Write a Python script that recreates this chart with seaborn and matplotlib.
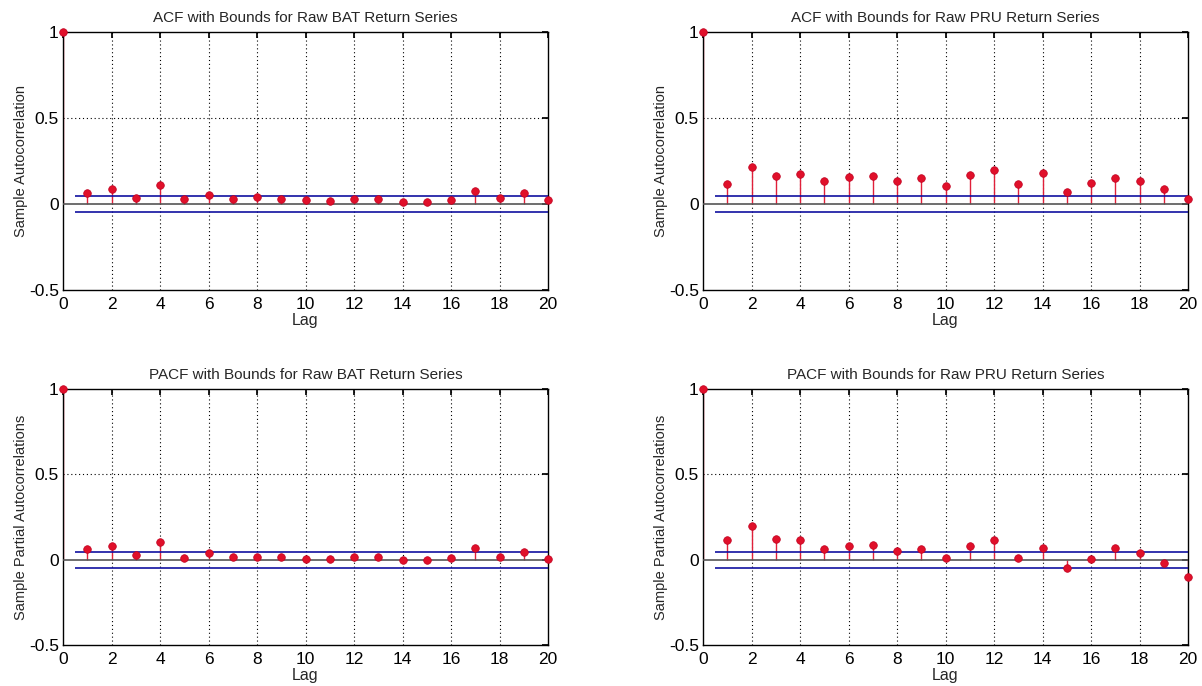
import numpy as np
import pandas as pd
import matplotlib
matplotlib.use("Agg")
import matplotlib.pyplot as plt
import seaborn as sns

lags = list(range(0, 21))
acf_bat = [1.0, 0.062, 0.087, 0.037, 0.112, 0.029, 0.054, 0.029, 0.043, 0.029, 0.023,
           0.016, 0.029, 0.029, 0.012, 0.012, 0.023, 0.074, 0.035, 0.062, 0.023]
acf_pru = [1.0, 0.118, 0.213, 0.165, 0.174, 0.136, 0.155, 0.165, 0.136, 0.149, 0.107,
           0.169, 0.200, 0.118, 0.180, 0.068, 0.124, 0.149, 0.136, 0.087, 0.029]
pacf_bat = [1.0, 0.062, 0.081, 0.025, 0.106, 0.012, 0.037, 0.017, 0.017, 0.017, 0.006,
            0.006, 0.017, 0.017, -0.002, -0.002, 0.012, 0.068, 0.017, 0.042, 0.006]
pacf_pru = [1.0, 0.118, 0.199, 0.124, 0.118, 0.062, 0.081, 0.087, 0.050, 0.062, 0.012,
            0.081, 0.118, 0.012, 0.068, -0.050, 0.006, 0.068, 0.037, -0.019, -0.100]
bound = 0.046

titles = ["ACF with Bounds for Raw BAT Return Series",
          "ACF with Bounds for Raw PRU Return Series",
          "PACF with Bounds for Raw BAT Return Series",
          "PACF with Bounds for Raw PRU Return Series"]
ylabels = ["Sample Autocorrelation", "Sample Autocorrelation",
           "Sample Partial Autocorrelations", "Sample Partial Autocorrelations"]
series = [acf_bat, acf_pru, pacf_bat, pacf_pru]

sns.set_theme(style="white")
plt.rcParams['font.family'] = ['Liberation Sans', 'DejaVu Sans']

fig = plt.figure(figsize=(12.02, 6.86), dpi=100)
W, H = 1202, 686
boxes = [(63, 32, 548, 290), (703, 32, 1188, 290),
         (63, 389, 548, 645), (703, 389, 1188, 645)]

for (x0, y0, x1, y1), vals, title, ylab in zip(boxes, series, titles, ylabels):
    ax = fig.add_axes([x0 / W, 1 - y1 / H, (x1 - x0) / W, (y1 - y0) / H])
    df = pd.DataFrame({"Lag": lags, "Value": vals})
    # grid
    for gx in range(2, 20, 2):
        ax.axvline(gx, color="black", linestyle=(0, (1, 2.5)), linewidth=0.8, zorder=0)
    ax.axhline(0.5, color="black", linestyle=(0, (1, 2.5)), linewidth=0.8, zorder=0)
    # stems
    ax.vlines(df["Lag"], 0, df["Value"], color="#e0203a", linewidth=1.0, zorder=2)
    sns.scatterplot(data=df, x="Lag", y="Value", ax=ax, color="#e0102a",
                    s=30, edgecolor="#c00020", linewidth=0.5, zorder=5,
                    legend=False, clip_on=False)
    ax.axhline(0, color="#555555", linewidth=1.2, zorder=3)
    ax.hlines([bound, -bound], 0.5, 20, color="#1010a0", linewidth=1.2, zorder=3)
    ax.set_xlim(0, 20)
    ax.set_ylim(-0.5, 1)
    ax.set_xticks(range(0, 21, 2))
    ax.set_yticks([-0.5, 0, 0.5, 1])
    ax.set_yticklabels(["-0.5", "0", "0.5", "1"])
    ax.tick_params(direction="in", length=4, top=True, right=True, labelsize=12.5,
                   colors="black")
    ax.tick_params(axis="x", pad=5)
    ax.tick_params(axis="y", pad=3)
    for sp in ax.spines.values():
        sp.set_color("black")
        sp.set_linewidth(1.0)
    ax.set_title(title, fontsize=11, pad=7)
    ax.set_xlabel("Lag", fontsize=11.5, labelpad=0.5)
    ax.set_ylabel(ylab, fontsize=10.5, labelpad=0.5)

fig.savefig("out.png", dpi=100, facecolor="white")
